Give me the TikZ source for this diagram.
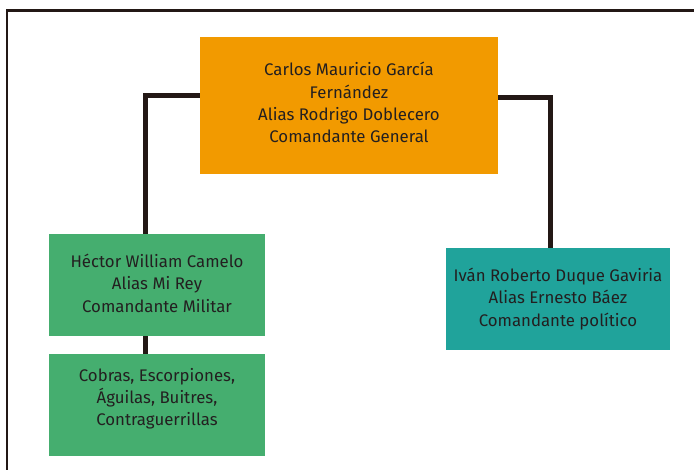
\documentclass[tikz,border=0pt]{standalone}
\usepackage{fontspec}
\setmainfont{Fira Sans}
\usetikzlibrary{backgrounds}
\definecolor{orangebox}{HTML}{F29A00}
\definecolor{greenbox}{HTML}{45AE6F}
\definecolor{tealbox}{HTML}{20A39B}
\definecolor{inkline}{HTML}{231815}
\definecolor{inktext}{HTML}{231F20}
\begin{document}
\begin{tikzpicture}[x=1pt,y=-1pt,
  box/.style={rectangle,inner sep=0pt,align=center,text=inktext,
    font=\fontsize{16.8}{22.3}\selectfont},
  link/.style={draw=inkline,line width=5pt,line join=miter}]
\useasboundingbox (0,0) rectangle (694,470);
\draw[inkline,line width=2.5pt,line join=miter] (694,10.5) -- (7,10.5) -- (7,470);
\node[box,fill=orangebox,minimum width=298pt,minimum height=137pt] (top) at (349,105.5)
  {Carlos Mauricio García\\Fernández\\Alias Rodrigo Doblecero\\Comandante General\\[-16.3pt]};
\node[box,fill=greenbox,minimum width=216pt,minimum height=102pt] (mil) at (157,285)
  {Héctor William Camelo\\Alias Mi Rey\\Comandante Militar\\[-18.3pt]};
\node[box,fill=greenbox,minimum width=216pt,minimum height=102pt] (grp) at (157,405)
  {Cobras, Escorpiones,\\Águilas, Buitres,\\Contraguerrillas\\[-6.3pt]};
\node[box,fill=tealbox,minimum width=224pt,minimum height=102pt] (pol) at (558,299)
  {Iván Roberto Duque Gaviria\\Alias Ernesto Báez\\Comandante político};
\begin{scope}[on background layer]
\draw[link] ([yshift=10pt]top.west) -| ([xshift=-11.5pt]mil.north);
\draw[link] ([xshift=-11.5pt]mil.south) -- ([xshift=-11.5pt]grp.north);
\draw[link] ([yshift=7.5pt]top.east) -| ([xshift=-7.5pt]pol.north);
\end{scope}
\end{tikzpicture}
\end{document}
